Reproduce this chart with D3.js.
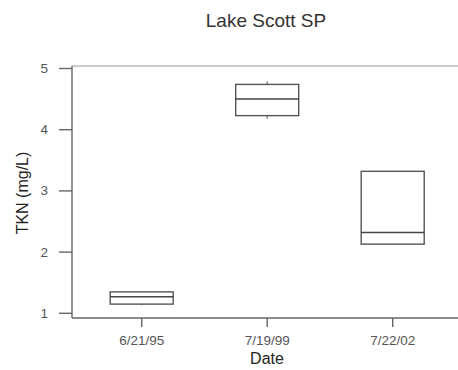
<!DOCTYPE html>
<html>
<head>
<meta charset="utf-8">
<script src="https://cdn.jsdelivr.net/npm/d3@7"></script>
<style>
  body { margin: 0; background: #fff; }
  svg { font-family: 'Liberation Sans', Arial, sans-serif; }
  .tick-label { fill: #555; font-size: 13.5px; }
</style>
</head>
<body>
<svg width="458" height="370"></svg>
<script>
const svg = d3.select('svg')

// box stats
const dates = ['6/21/95', '7/19/99', '7/22/02']
const q1 = [1.15, 4.23, 2.13]
const medians = [1.27, 4.50, 2.32]
const q3 = [1.35, 4.74, 3.32]
const whiskerLow = [1.13, 4.18, 2.13]
const whiskerHigh = [1.35, 4.79, 3.32]
const yTicks = [1, 2, 3, 4, 5]

const data = dates.map((d, i) => ({
  date: d, q1: q1[i], median: medians[i], q3: q3[i], lo: whiskerLow[i], hi: whiskerHigh[i]
}))

// scales
const x = d3.scalePoint()
  .domain(dates)
  .range([141.7, 392.7])

const y = d3.scaleLinear()
  .domain([1, 5])
  .range([313.3, 68.5])

// plot frame edges (window.top is reserved, so prefix these)
const plotLeft = 72, plotTop = 66, plotBottom = 318, plotRight = 458
const boxW = 63

// title
svg.append('text')
  .attr('x', 266)
  .attr('y', 27)
  .attr('text-anchor', 'middle')
  .style('font-size', '19px')
  .style('fill', '#333')
  .text('Lake Scott SP')

// frame: light top line, dark left + bottom axes
svg.append('line')
  .attr('x1', plotLeft).attr('x2', plotRight)
  .attr('y1', plotTop).attr('y2', plotTop)
  .attr('stroke', '#bbb').attr('stroke-width', 1.6)

svg.append('line')
  .attr('x1', plotLeft).attr('x2', plotLeft)
  .attr('y1', plotTop).attr('y2', plotBottom)
  .attr('stroke', '#777').attr('stroke-width', 1.6)

svg.append('line')
  .attr('x1', plotLeft).attr('x2', plotRight)
  .attr('y1', plotBottom).attr('y2', plotBottom)
  .attr('stroke', '#666').attr('stroke-width', 1.6)

// y ticks
const yAxis = svg.append('g')
yAxis.selectAll('line.ytick')
  .data(yTicks)
  .enter()
  .append('line')
  .attr('class', 'ytick')
  .attr('x1', 59).attr('x2', plotLeft)
  .attr('y1', d => y(d)).attr('y2', d => y(d))
  .attr('stroke', '#666').attr('stroke-width', 1.4)

yAxis.selectAll('text')
  .data(yTicks)
  .enter()
  .append('text')
  .attr('class', 'tick-label')
  .attr('x', 48)
  .attr('y', d => y(d) + 4.5)
  .attr('text-anchor', 'end')
  .text(d => d)

// x ticks
const xAxis = svg.append('g')
xAxis.selectAll('line')
  .data(dates)
  .enter()
  .append('line')
  .attr('x1', d => x(d)).attr('x2', d => x(d))
  .attr('y1', plotBottom).attr('y2', plotBottom + 9)
  .attr('stroke', '#666').attr('stroke-width', 1.4)

xAxis.selectAll('text')
  .data(dates)
  .enter()
  .append('text')
  .attr('class', 'tick-label')
  .attr('x', d => x(d))
  .attr('y', 345)
  .attr('text-anchor', 'middle')
  .text(d => d)

// axis titles
svg.append('text')
  .attr('x', 267)
  .attr('y', 364)
  .attr('text-anchor', 'middle')
  .style('font-size', '16px')
  .style('fill', '#222')
  .text('Date')

svg.append('text')
  .attr('transform', 'translate(28, 193) rotate(-90)')
  .attr('text-anchor', 'middle')
  .style('font-size', '16px')
  .style('fill', '#222')
  .text('TKN (mg/L)')

// boxes
const boxes = svg.selectAll('g.box')
  .data(data)
  .enter()
  .append('g')
  .attr('class', 'box')

// whiskers (short, faint)
boxes.append('line')
  .attr('x1', d => x(d.date)).attr('x2', d => x(d.date))
  .attr('y1', d => y(d.hi)).attr('y2', d => y(d.q3))
  .attr('stroke', '#777').attr('stroke-width', 1.2)

boxes.append('line')
  .attr('x1', d => x(d.date)).attr('x2', d => x(d.date))
  .attr('y1', d => y(d.q1)).attr('y2', d => y(d.lo))
  .attr('stroke', '#777').attr('stroke-width', 1.2)

boxes.append('rect')
  .attr('x', d => x(d.date) - boxW / 2)
  .attr('y', d => y(d.q3))
  .attr('width', boxW)
  .attr('height', d => y(d.q1) - y(d.q3))
  .attr('fill', '#fff')
  .attr('stroke', '#555')
  .attr('stroke-width', 1.4)

boxes.append('line')
  .attr('x1', d => x(d.date) - boxW / 2).attr('x2', d => x(d.date) + boxW / 2)
  .attr('y1', d => y(d.median)).attr('y2', d => y(d.median))
  .attr('stroke', '#444').attr('stroke-width', 1.5)
</script>
</body>
</html>
